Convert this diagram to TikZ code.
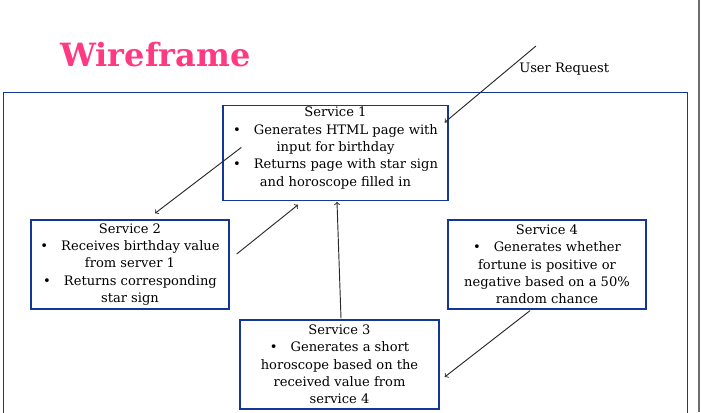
\documentclass[tikz,border=0pt]{standalone}
\usepackage{fontspec}
\setmainfont{DejaVu Serif}
\definecolor{boxblue}{RGB}{20,55,150}
\definecolor{titlepink}{RGB}{255,58,130}
\definecolor{arrowgray}{RGB}{40,40,40}
\definecolor{edgegray}{RGB}{110,110,110}
\newcommand{\pxu}{0.75pt}
\begin{document}
\begin{tikzpicture}[x=0.75pt,y=-0.75pt,
  svc/.style={draw=boxblue, line width=1pt, align=center, inner sep=0pt, font=\fontsize{9.8}{13}\selectfont},
  flow/.style={draw=arrowgray, line width=0.7pt, ->}]
\useasboundingbox (0,0) rectangle (701,412);

\path[draw=boxblue, line width=1pt] (3.5,420) -- (3.5,92.5) -- (687.5,92.5) -- (687.5,420);
\path[draw=edgegray, line width=1.5pt] (699,0) -- (699,412);

\node[font=\fontsize{24}{28}\selectfont\bfseries, text=titlepink, anchor=base west, inner sep=0pt] (title) at (60,66) {Wireframe};

\node[svc, minimum width=225*\pxu, anchor=north, inner ysep=1pt, text depth=9.6pt] (s1) at (335.5,105) {Service 1\\ \textbullet\quad Generates HTML page with\\ input for birthday\\ \textbullet\quad Returns page with star sign\\ and horoscope filled in};
\node[svc, minimum width=198*\pxu, minimum height=89*\pxu] (s2) at (130,264.5) {Service 2\\ \textbullet\quad Receives birthday value\\ from server 1\\ \textbullet\quad Returns corresponding\\ star sign};
\node[svc, minimum width=199*\pxu, minimum height=89*\pxu] (s3) at (339.5,364.5) {Service 3\\ \textbullet\quad Generates a short\\ horoscope based on the\\ received value from\\ service 4};
\node[svc, minimum width=198*\pxu, minimum height=89*\pxu] (s4) at (547,264.5) {Service 4\\ \textbullet\quad Generates whether\\ fortune is positive or\\ negative based on a 50\%\\ random chance};

\coordinate (reqstart) at (536,46);
\node[anchor=west, inner sep=0pt, font=\fontsize{9.8}{13}\selectfont] (req) at (519,69) {User Request};

\path[flow] (reqstart) -- ([shift={(-4,-30.5)}]s1.east);
\path[flow] ([shift={(19,-5.5)}]s1.west) -- ([shift={(25,-6)}]s2.north);
\path[flow] ([shift={(7,-10.5)}]s2.east) -- ([shift={(-37.5,4)}]s1.south);
\path[flow] ([shift={(1.5,-1)}]s3.north) -- ([shift={(1.5,1)}]s1.south);
\path[flow] ([shift={(-17,1)}]s4.south) -- ([shift={(5,12.5)}]s3.east);
\end{tikzpicture}
\end{document}
